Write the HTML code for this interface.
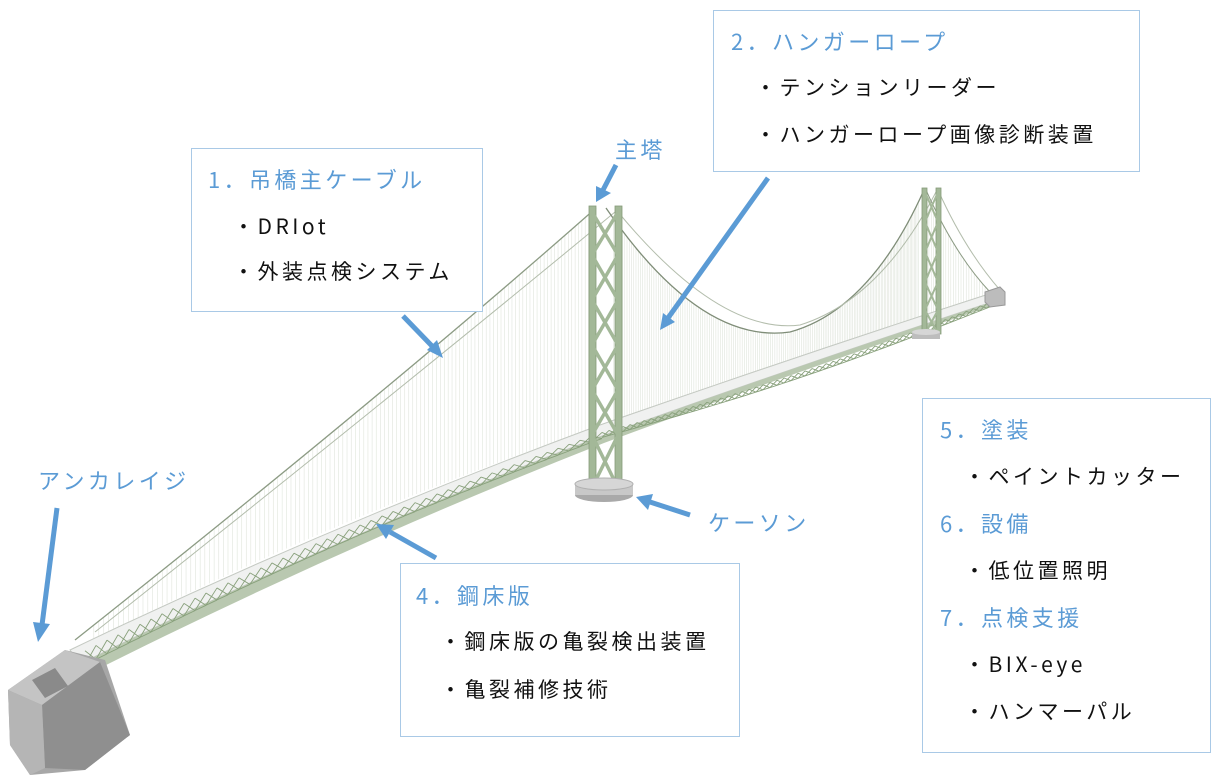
<!DOCTYPE html>
<html><head><meta charset="utf-8"><style>
html,body{margin:0;padding:0;background:#fff;}
#w{position:relative;width:1216px;height:780px;overflow:hidden;font-family:"Noto Sans CJK JP","Liberation Sans",sans-serif;}
svg{position:absolute;left:0;top:0;}
.box{position:absolute;border:1.5px solid #a9c9e6;background:#fff;box-sizing:border-box;}
.t{position:absolute;color:#5b9bd5;font-size:22px;letter-spacing:3.4px;white-space:nowrap;line-height:1;}
.i{position:absolute;color:#111;font-size:21px;letter-spacing:3.5px;white-space:nowrap;line-height:1;}
</style></head><body><div id="w">
<svg width="1216" height="780" viewBox="0 0 1216 780" id="s">
<g id="hang" stroke="#d3dacd" stroke-width="0.6" opacity="0.7"></g>
<path d="M75,640 Q390,390 596,208" stroke="#8c9b84" stroke-width="1.3" fill="none"/>
<path d="M95,632 Q400,390 615,212" stroke="#b3bdac" stroke-width="1" fill="none"/>
<path d="M606,208 Q700,345 790,332 Q870,310 924,190" stroke="#7f8d78" stroke-width="1.3" fill="none"/>
<path d="M618,212 Q720,335 800,325 Q880,300 936,192" stroke="#b3bdac" stroke-width="1" fill="none"/>
<path d="M926,190 Q955,255 990,292" stroke="#8c9b84" stroke-width="1" fill="none"/>
<path d="M938,190 Q965,250 1000,290" stroke="#b3bdac" stroke-width="1" fill="none"/>
<path d="M70,650 Q330,525 600,425 Q800,355 995,292 L998,300 Q800,365 602,436 Q340,535 80,664 Z" fill="#f0f1f0" stroke="#c4c9c2" stroke-width="1"/>
<path d="M80,664 Q340,535 602,436 Q800,365 998,300 L998,304 Q800,370 604,443 Q345,545 90,673 Z" fill="#b9c8b0"/>
<g id="truss" stroke="#88a07b" stroke-width="0.9" fill="none"></g>
<g fill="#a3b898" stroke="#859b79" stroke-width="0.8">
<rect x="589" y="206" width="7" height="282"/>
<rect x="615" y="206" width="7" height="282"/>
</g>
<g id="xb" stroke="#a3b898" stroke-width="3.5" fill="none"></g>
<ellipse cx="604" cy="495" rx="29" ry="7" fill="#a9a9a9"/>
<rect x="575" y="484" width="58" height="11" fill="#c8c8c8"/>
<ellipse cx="604" cy="484" rx="29" ry="6" fill="#d6d6d6" stroke="#b0b0b0"/>
<g fill="#a3b898" stroke="#859b79" stroke-width="0.8">
<rect x="922" y="188" width="5" height="146"/>
<rect x="936" y="188" width="5" height="146"/>
</g>
<g id="xb2" stroke="#a3b898" stroke-width="2" fill="none"></g>
<rect x="912" y="332" width="28" height="7" fill="#bdbdbd"/>
<ellipse cx="926" cy="332" rx="14" ry="3" fill="#d6d6d6"/>
<polygon points="985,292 1000,287 1005,292 1005,305 990,307 985,302" fill="#bcbcbc" stroke="#999"/>
<polygon points="8,690 65,650 105,660 130,735 85,770 30,775 10,745" fill="#a7a7a7"/>
<polygon points="8,690 65,650 100,662 42,705" fill="#c4c4c4"/>
<polygon points="42,705 100,662 130,735 85,770 45,768" fill="#8f8f8f"/>
<polygon points="8,690 42,705 45,768 30,775 10,745" fill="#b5b5b5"/>
<polygon points="32,680 55,668 68,686 45,698" fill="#8a8a8a"/>
<g stroke="#5b9bd5" stroke-width="5" fill="#5b9bd5">
<line x1="616" y1="165" x2="603" y2="190"/>
<line x1="403" y1="316" x2="432" y2="346"/>
<line x1="768" y1="178" x2="668" y2="318"/>
<line x1="57" y1="508" x2="42" y2="625"/>
<line x1="690" y1="515" x2="650" y2="502"/>
<line x1="436" y1="558" x2="390" y2="532"/>
</g>
<g fill="#5b9bd5">
<polygon points="596,202 596,186 611,193"/>
<polygon points="443,358 427,350 437,340"/>
<polygon points="660,330 663,313 675,322"/>
<polygon points="38,642 33,622 50,624"/>
<polygon points="636,497 653,494 648,510"/>
<polygon points="376,524 394,525 386,539"/>
</g>
</svg>
<div class="box" style="left:191px;top:148px;width:292px;height:164px"></div>
<div class="t" style="left:208px;top:168px">1．吊橋主ケーブル</div>
<div class="i" style="left:233px;top:216px">・DRIot</div>
<div class="i" style="left:233px;top:261px">・外装点検システム</div>
<div class="box" style="left:713px;top:10px;width:427px;height:162px"></div>
<div class="t" style="left:731px;top:30px">2．ハンガーロープ</div>
<div class="i" style="left:755px;top:77px">・テンションリーダー</div>
<div class="i" style="left:755px;top:124px">・ハンガーロープ画像診断装置</div>
<div class="box" style="left:400px;top:563px;width:340px;height:174px"></div>
<div class="t" style="left:416px;top:584px">4．鋼床版</div>
<div class="i" style="left:440px;top:631px">・鋼床版の亀裂検出装置</div>
<div class="i" style="left:440px;top:679px">・亀裂補修技術</div>
<div class="box" style="left:922px;top:398px;width:289px;height:355px"></div>
<div class="t" style="left:940px;top:418px">5．塗装</div>
<div class="i" style="left:964px;top:466px">・ペイントカッター</div>
<div class="t" style="left:940px;top:512px">6．設備</div>
<div class="i" style="left:964px;top:560px">・低位置照明</div>
<div class="t" style="left:940px;top:606px">7．点検支援</div>
<div class="i" style="left:964px;top:654px">・BIX-eye</div>
<div class="i" style="left:964px;top:701px">・ハンマーパル</div>
<div class="t" style="left:615px;top:138px">主塔</div>
<div class="t" style="left:38px;top:469px">アンカレイジ</div>
<div class="t" style="left:708px;top:511px">ケーソン</div>
</div>
<script>
var NS="http://www.w3.org/2000/svg";
function L(g,x1,y1,x2,y2){var l=document.createElementNS(NS,"line");l.setAttribute("x1",x1);l.setAttribute("y1",y1);l.setAttribute("x2",x2);l.setAttribute("y2",y2);document.getElementById(g).appendChild(l);}
function q(p0,p1,p2,t){return (1-t)*(1-t)*p0+2*(1-t)*t*p1+t*t*p2;}
function deckY(x){
 if(x<600) return 650+(425-650)*(x-70)/530 - 10*Math.sin(Math.PI*(x-70)/530);
 return 425+(292-425)*(x-600)/395 + 7*Math.sin(Math.PI*(x-600)/395);}
for(var t=0.03;t<0.99;t+=0.008){var x=q(75,390,596,t),y=q(640,390,208,t);var d=deckY(x);if(y<d)L("hang",x,y,x,d);}
for(var t=0.02;t<0.98;t+=0.006){var x,y;if(t<0.5){var u=t*2;x=q(606,700,790,u);y=q(208,345,332,u);}else{var u=(t-0.5)*2;x=q(790,870,924,u);y=q(332,310,190,u);}var d=deckY(x);if(y<d)L("hang",x,y,x,d);}
for(var t=0.05;t<0.98;t+=0.04){var x=q(926,955,990,t),y=q(190,255,292,t);L("hang",x,y,x,deckY(x));}
for(var x=85;x<995;){var s=x<600?11:7;var h=x<600?14-8*(x-85)/515:5;var y=deckY(x)+8,y2=deckY(x+s)+8;L("truss",x,y,x+s,y2+h);L("truss",x,y+h,x+s,y2);L("truss",x,y+h,x+s,y2+h);x+=s;}
var ys=[212,255,300,345,390,435,488];for(var i=0;i<ys.length-1;i++){L("xb",592,ys[i],618,ys[i+1]);L("xb",618,ys[i],592,ys[i+1]);}
var y2=[192,222,252,282,310,334];for(var i=0;i<y2.length-1;i++){L("xb2",925,y2[i],938,y2[i+1]);L("xb2",938,y2[i],925,y2[i+1]);}
</script>
</body></html>
